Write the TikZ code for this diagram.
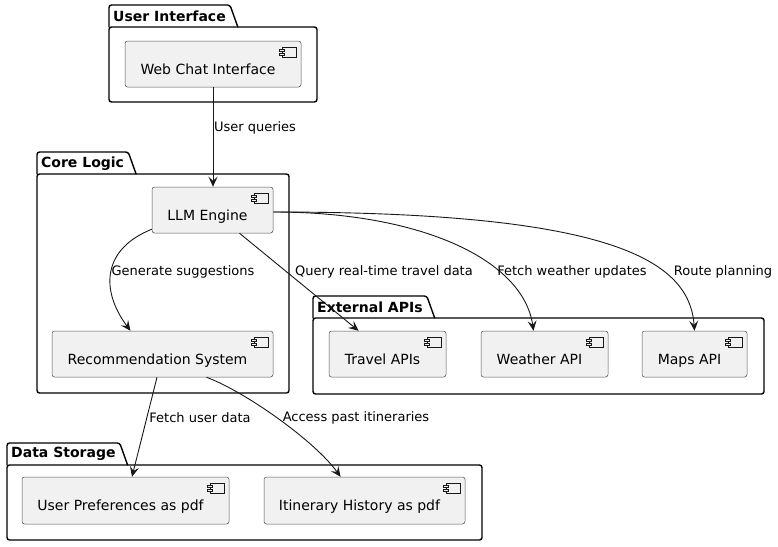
\documentclass[tikz,border=0pt]{standalone}
\usepackage{fontspec}
\setmainfont{DejaVu Sans}
\usepackage{tikz}
\usetikzlibrary{arrows.meta, calc}
\definecolor{compfill}{HTML}{F1F1F1}
\definecolor{compborder}{HTML}{181818}
\definecolor{inkline}{HTML}{181818}

\tikzset{
  comp/.style={draw=compborder!75, line width=0.5pt, fill=compfill, rounded corners=2.5pt,
    minimum height=46pt, inner xsep=0pt, inner ysep=0pt, text height=23pt, text depth=3pt,
    font=\fontsize{14}{16}\selectfont, execute at end node={\hspace*{10pt}},
    path picture={
      \draw[compborder, line width=0.6pt, sharp corners]
        ([xshift=-19pt,yshift=-6pt]path picture bounding box.north east) rectangle ++(14pt,-10pt);
      \draw[compborder, line width=0.6pt, sharp corners, fill=compfill]
        ([xshift=-22pt,yshift=-8pt]path picture bounding box.north east) rectangle ++(5pt,-2pt)
        ([xshift=-22pt,yshift=-12pt]path picture bounding box.north east) rectangle ++(5pt,-2pt);
    }},
  pkgline/.style={draw=black, line width=1.4pt, rounded corners=2.5pt},
  pkgtitle/.style={anchor=north west, inner xsep=4pt, inner ysep=0pt, minimum height=22pt,
    font=\fontsize{14}{16}\selectfont\bfseries},
  flow/.style={draw=inkline, line width=0.9pt, -{Stealth[length=10pt, width=9pt, inset=4pt]}},
  elabel/.style={inner sep=0pt, font=\fontsize{13}{15}\selectfont}
}

\begin{document}
\begin{tikzpicture}[x=1pt, y=-1pt]
  \useasboundingbox (0,0) rectangle (778,546);

  % packages
  \node[pkgtitle] (uiT) at (109,5) {User Interface};
  \draw[pkgline] (uiT.south west) -- (uiT.north west) -- (uiT.north east) -- ([xshift=8pt]uiT.south east);
  \draw[pkgline] (109,27) rectangle (317,102);

  \node[pkgtitle] (coreT) at (37,152) {Core Logic};
  \draw[pkgline] (coreT.south west) -- (coreT.north west) -- (coreT.north east) -- ([xshift=8pt]coreT.south east);
  \draw[pkgline] (37,174) rectangle (289,393);

  \node[pkgtitle] (extT) at (313,296) {External APIs};
  \draw[pkgline] (extT.south west) -- (extT.north west) -- (extT.north east) -- ([xshift=8pt]extT.south east);
  \draw[pkgline] (313,318) rectangle (764,394);

  \node[pkgtitle] (dataT) at (7,443) {Data Storage};
  \draw[pkgline] (dataT.south west) -- (dataT.north west) -- (dataT.north east) -- ([xshift=8pt]dataT.south east);
  \draw[pkgline] (7,465) rectangle (482,540);

  % components
  \node[comp, minimum width=176pt] (web) at (213,64) {Web Chat Interface};
  \node[comp, minimum width=121pt] (llm) at (212.5,210) {LLM Engine};
  \node[comp, minimum width=221pt] (rec) at (162.5,354) {Recommendation System};
  \node[comp, minimum width=117pt] (travel) at (387.5,354) {Travel APIs};
  \node[comp, minimum width=127pt] (weather) at (544.5,354) {Weather API};
  \node[comp, minimum width=105pt] (maps) at (694.5,354) {Maps API};
  \node[comp, minimum width=207pt, minimum height=47pt] (prefs) at (125.5,500.5) {User Preferences as pdf};
  \node[comp, minimum width=201pt, minimum height=47pt] (itin) at (364.5,500.5) {Itinerary History as pdf};

  % connectors
  \draw[flow] (web.south) -- (web.south |- llm.north);
  \draw[flow] ([yshift=4pt]llm.south west) .. controls +(-50,20) and +(-30,-40) .. ([xshift=-32pt]rec.north);
  \draw[flow] ([xshift=27pt]llm.south) -- ([xshift=-29pt]travel.north);
  \draw[flow] ([yshift=-2pt]llm.east) .. controls +(150,0) and +(-10,-70) .. ([xshift=-11pt]weather.north);
  \draw[flow] ([yshift=-2pt]llm.east) .. controls +(340,0) and +(-5,-70) .. (maps.north);
  \draw[flow] ([xshift=-5.5pt]rec.south) -- ([xshift=6.5pt]prefs.north);
  \draw[flow] ([xshift=44pt]rec.south) .. controls +(40,15) and +(-25,-35) .. ([xshift=-24pt]itin.north);

  % connector labels
  \node[elabel] (lQueries) at (255,128) {User queries};
  \node[elabel] (lSuggest) at (183,272) {Generate suggestions};
  \node[elabel] (lTravel) at (384,272) {Query real-time travel data};
  \node[elabel] (lWeather) at (572,272) {Fetch weather updates};
  \node[elabel] (lRoute) at (723,272) {Route planning};
  \node[elabel] (lUser) at (200,418) {Fetch user data};
  \node[elabel] (lPast) at (356,418) {Access past itineraries};
\end{tikzpicture}
\end{document}
